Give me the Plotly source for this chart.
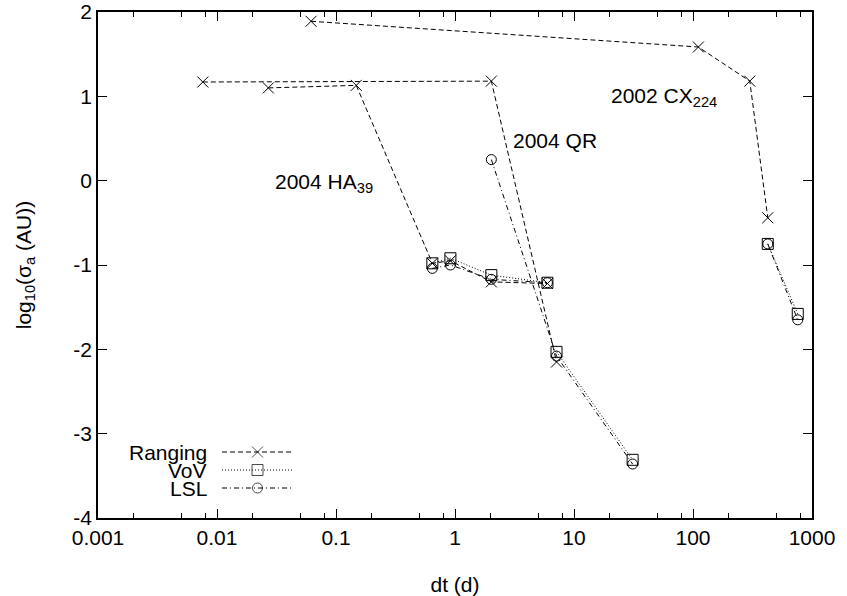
import plotly.graph_objects as go

# ---------------- data ----------------
# 2004 HA39
ha39_dt_ranging = [0.027, 0.148, 0.645, 0.915, 2.02, 5.98]
ha39_ranging = [1.10, 1.13, -0.98, -0.95, -1.20, -1.22]
ha39_dt_vov = [0.645, 0.915, 2.02, 5.98]
ha39_vov = [-0.98, -0.92, -1.12, -1.21]
ha39_dt_lsl = [0.645, 0.915, 2.02, 5.98]
ha39_lsl = [-1.04, -1.00, -1.17, -1.21]

# 2004 QR
qr_dt_ranging = [0.0076, 2.02, 7.13]
qr_ranging = [1.17, 1.18, -2.15]
qr_dt_vov = [7.13, 31.1]
qr_vov = [-2.03, -3.31]
qr_dt_lsl = [2.02, 7.13, 31.1]
qr_lsl = [0.25, -2.08, -3.36]

# 2002 CX224
cx_dt_ranging = [0.0617, 111.0, 300.0, 425.0]
cx_ranging = [1.89, 1.585, 1.18, -0.44]
cx_dt_vov = [425.0, 759.0]
cx_vov = [-0.75, -1.58]
cx_dt_lsl = [425.0, 759.0]
cx_lsl = [-0.75, -1.65]

x_tickvals = [0.001, 0.01, 0.1, 1, 10, 100, 1000]
x_ticktext = ["0.001", "0.01", "0.1", "1", "10", "100", "1000"]
x_minor = [m * 10.0 ** e for e in range(-3, 3) for m in (2, 5, 8)]
y_tickvals = [-4, -3, -2, -1, 0, 1, 2]
y_ticktext = ["-4", "-3", "-2", "-1", "0", "1", "2"]

series_names = ["Ranging", "VoV", "LSL"]

# ---------------- styles / layout ----------------
FONT = "Liberation Sans, Arial, Helvetica, sans-serif"
FS = 21
INK = "#000000"
LINE_W = 1
STYLE = {
    "Ranging": dict(dash="5px,3px", symbol="x-thin-open", size=11),
    "VoV": dict(dash="1px,2px", symbol="square-open", size=11),
    "LSL": dict(dash="5px,3px,1px,3px", symbol="circle-open", size=10),
}
W, H = 847, 596
PL, PR, PT, PB = 98, 812, 12, 518          # plot area in pixels
ML, MR, MT, MB = PL, W - PR, PT, H - PB


def px2paper(px, py):
    return (px - PL) / (PR - PL), (PB - py) / (PB - PT)


fig = go.Figure()


def add(x, y, name):
    st = STYLE[name]
    fig.add_trace(go.Scatter(
        x=x, y=y, mode="lines+markers", name=name, showlegend=False,
        line=dict(color=INK, width=LINE_W, dash=st["dash"]),
        marker=dict(symbol=st["symbol"], size=st["size"], color=INK,
                    line=dict(color=INK, width=1)),
    ))


add(ha39_dt_ranging, ha39_ranging, "Ranging")
add(ha39_dt_vov, ha39_vov, "VoV")
add(ha39_dt_lsl, ha39_lsl, "LSL")
add(qr_dt_ranging, qr_ranging, "Ranging")
add(qr_dt_vov, qr_vov, "VoV")
add(qr_dt_lsl, qr_lsl, "LSL")
add(cx_dt_ranging, cx_ranging, "Ranging")
add(cx_dt_vov, cx_vov, "VoV")
add(cx_dt_lsl, cx_lsl, "LSL")

# ---------------- gnuplot-style key (text left, sample right) ----------------
KEY_TEXT_PX = 208
KEY_LINE_PX = (222, 293)
KEY_ROWS_PY = [452, 470, 488]
for name, py in zip(series_names, KEY_ROWS_PY):
    st = STYLE[name]
    x0, ky = px2paper(KEY_LINE_PX[0], py)
    x1, _ = px2paper(KEY_LINE_PX[1], py)
    fig.add_trace(go.Scatter(
        x=[x0, (x0 + x1) / 2, x1], y=[ky, ky, ky],
        xaxis="x2", yaxis="y2", mode="lines+markers", showlegend=False,
        hoverinfo="skip",
        line=dict(color=INK, width=LINE_W, dash=st["dash"]),
        marker=dict(symbol=st["symbol"], size=[0, st["size"], 0], color=INK,
                    line=dict(color=INK, width=1)),
    ))
    tx, _ = px2paper(KEY_TEXT_PX, py)
    fig.add_annotation(x=tx, y=ky, xref="paper", yref="paper",
                       text=name, showarrow=False, xanchor="right",
                       yanchor="middle", borderpad=0,
                       font=dict(family=FONT, size=FS, color=INK))

# ---------------- object labels ----------------
labels = [
    ("2004 HA<sub>39</sub>", 274, 183),
    ("2004 QR", 512, 140),
    ("2002 CX<sub>224</sub>", 610, 97),
]
for txt, px, py in labels:
    ax, ay = px2paper(px, py)
    fig.add_annotation(x=ax, y=ay, xref="paper", yref="paper", text=txt,
                       showarrow=False, xanchor="left", yanchor="middle",
                       borderpad=0, font=dict(family=FONT, size=FS, color=INK))

axis_common = dict(
    showgrid=False, zeroline=False, showline=True, linecolor=INK, linewidth=1.5,
    mirror="ticks", ticks="inside", ticklen=9, tickwidth=1, tickcolor=INK,
    tickfont=dict(family=FONT, size=FS, color=INK), automargin=False,
)

fig.update_layout(
    width=W, height=H,
    margin=dict(l=ML, r=MR, t=MT, b=MB, pad=0),
    paper_bgcolor="white", plot_bgcolor="white",
    font=dict(family=FONT, size=FS, color=INK),
    xaxis=dict(type="log", range=[-3, 3], tickvals=x_tickvals, ticktext=x_ticktext,
               title=dict(text="dt (d)", font=dict(family=FONT, size=FS), standoff=29),
               minor=dict(tickvals=x_minor, ticks="inside", ticklen=5, tickcolor=INK,
                          tickwidth=1, showgrid=False),
               **axis_common),
    yaxis=dict(range=[-4, 2], tickvals=y_tickvals, ticktext=y_ticktext,
               title=dict(text="log<sub>10</sub>(σ<sub>a</sub> (AU))",
                          font=dict(family=FONT, size=FS), standoff=36),
               **axis_common),
    xaxis2=dict(overlaying="x", range=[0, 1], visible=False, fixedrange=True),
    yaxis2=dict(overlaying="y", range=[0, 1], visible=False, fixedrange=True),
)

fig.write_html("out.html", config={"displayModeBar": False},
               post_script="document.body.style.margin='0px';")
